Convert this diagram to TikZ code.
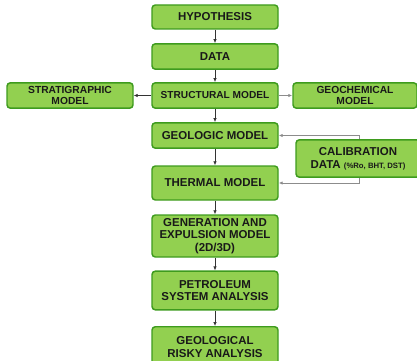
\documentclass[tikz,border=0pt]{standalone}
\usepackage{fontspec}
\setmainfont{Liberation Sans}
\usetikzlibrary{arrows.meta}
\definecolor{boxfill}{HTML}{92D050}
\definecolor{boxline}{HTML}{3E9B1E}
\definecolor{linkgray}{HTML}{8C8C8C}
\tikzset{
  px/.style={x=0.75pt,y=-0.75pt},
  gbox/.style={draw=boxline,fill=boxfill,line width=1.1pt,rounded corners=2.5pt,
    align=center,font=\bfseries\fontsize{8.6}{9.6}\selectfont,inner sep=0pt,text=black!90},
  sbox/.style={gbox,font=\bfseries\fontsize{7.7}{8.6}\selectfont},
  flow/.style={draw=black!80,line width=0.5pt,-{Latex[length=3pt,width=2.6pt]}},
  glink/.style={draw=linkgray,line width=0.6pt,-{Latex[length=3pt,width=2.6pt]}}
}
\begin{document}
\begin{tikzpicture}[px]
\useasboundingbox (0,0) rectangle (417,360);
\clip (0,0) rectangle (417,360);
\node[gbox,minimum width=94.5pt,minimum height=18pt] (hyp) at (215,17) {HYPOTHESIS};
\node[gbox,minimum width=94.5pt,minimum height=19pt] (data) at (215,56.5) {DATA};
\node[gbox,font=\bfseries\fontsize{7.6}{8.4}\selectfont,minimum width=94.5pt,minimum height=19pt] (struct) at (215,95.5) {STRUCTURAL MODEL};
\node[sbox,minimum width=94.5pt,minimum height=19pt] (strat) at (70,95.5) {STRATIGRAPHIC\\MODEL};
\node[sbox,minimum width=93pt,minimum height=19pt] (geochem) at (355,95.5) {GEOCHEMICAL\\MODEL};
\node[gbox,minimum width=94.5pt,minimum height=19pt] (geol) at (215,135.5) {GEOLOGIC MODEL};
\node[gbox,minimum width=93pt,minimum height=28pt] (calib) at (358,158.5) {CALIBRATION\\DATA {\fontsize{5.8}{6.5}\selectfont(\%Ro, BHT, DST)}};
\node[gbox,minimum width=94.5pt,minimum height=25.5pt] (therm) at (215,183) {THERMAL MODEL};
\node[gbox,minimum width=94.5pt,minimum height=31.5pt] (gen) at (215,236) {GENERATION AND\\EXPULSION MODEL\\(2D/3D)};
\node[gbox,minimum width=94.5pt,minimum height=29pt] (petro) at (215,290.5) {PETROLEUM\\SYSTEM ANALYSIS};
\node[gbox,minimum width=94.5pt,minimum height=30pt,anchor=north] (risk) at (215,326) {GEOLOGICAL\\RISKY ANALYSIS};
\draw[flow] (hyp) -- (data);
\draw[flow] (data) -- (struct);
\draw[flow] (struct) -- (geol);
\draw[flow] (struct) -- (strat);
\draw[glink] (struct) -- (geochem);
\draw[flow] (geol) -- (therm);
\draw[flow] (therm) -- (gen);
\draw[flow] (gen) -- (petro);
\draw[flow] (petro) -- (risk);
\coordinate (ct) at (359,135.5);
\coordinate (cb) at (359,183);
\draw[glink] (calib.north -| ct) -- (ct) -- (geol.east);
\draw[glink] (calib.south -| cb) -- (cb) -- (therm.east);
\end{tikzpicture}
\end{document}
